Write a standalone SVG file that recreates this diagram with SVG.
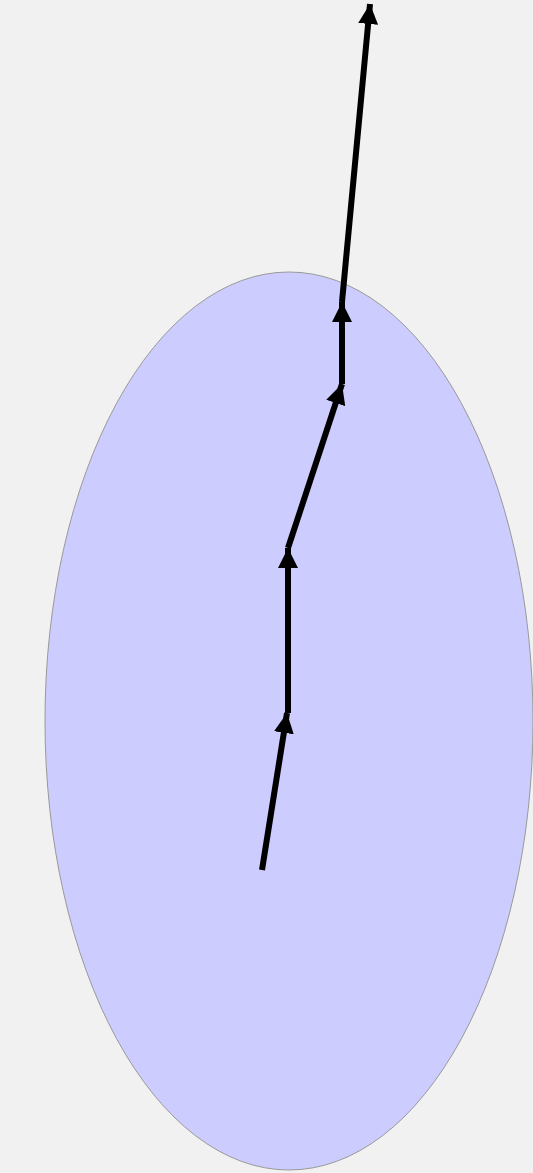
<svg xmlns="http://www.w3.org/2000/svg" width="533" height="1173" viewBox="0 0 533 1173">
<defs>
<marker id="ah" viewBox="0 0 20 20" refX="20" refY="10" markerWidth="20" markerHeight="20" markerUnits="userSpaceOnUse" orient="auto">
<path d="M0,0 L20,10 L0,20 Z" fill="#000"/>
</marker>
</defs>
<style>
.bg{fill:#f1f1f1}
.node{fill:#ccccff;stroke:#999999;stroke-width:1}
.edge{fill:none;stroke:#000;stroke-width:6;marker-end:url(#ah)}
</style>
<rect class="bg" x="0" y="0" width="533" height="1173"/>
<g id="region">
<ellipse class="node" cx="289" cy="721" rx="244" ry="449"/>
</g>
<g id="connectors">
<line class="edge" x1="262" y1="870" x2="287" y2="713"/>
<line class="edge" x1="288" y1="713" x2="288" y2="548"/>
<line class="edge" x1="288" y1="548" x2="342" y2="384"/>
<line class="edge" x1="342" y1="384" x2="342" y2="302"/>
<line class="edge" x1="342" y1="302" x2="370" y2="4"/>
</g>
</svg>
